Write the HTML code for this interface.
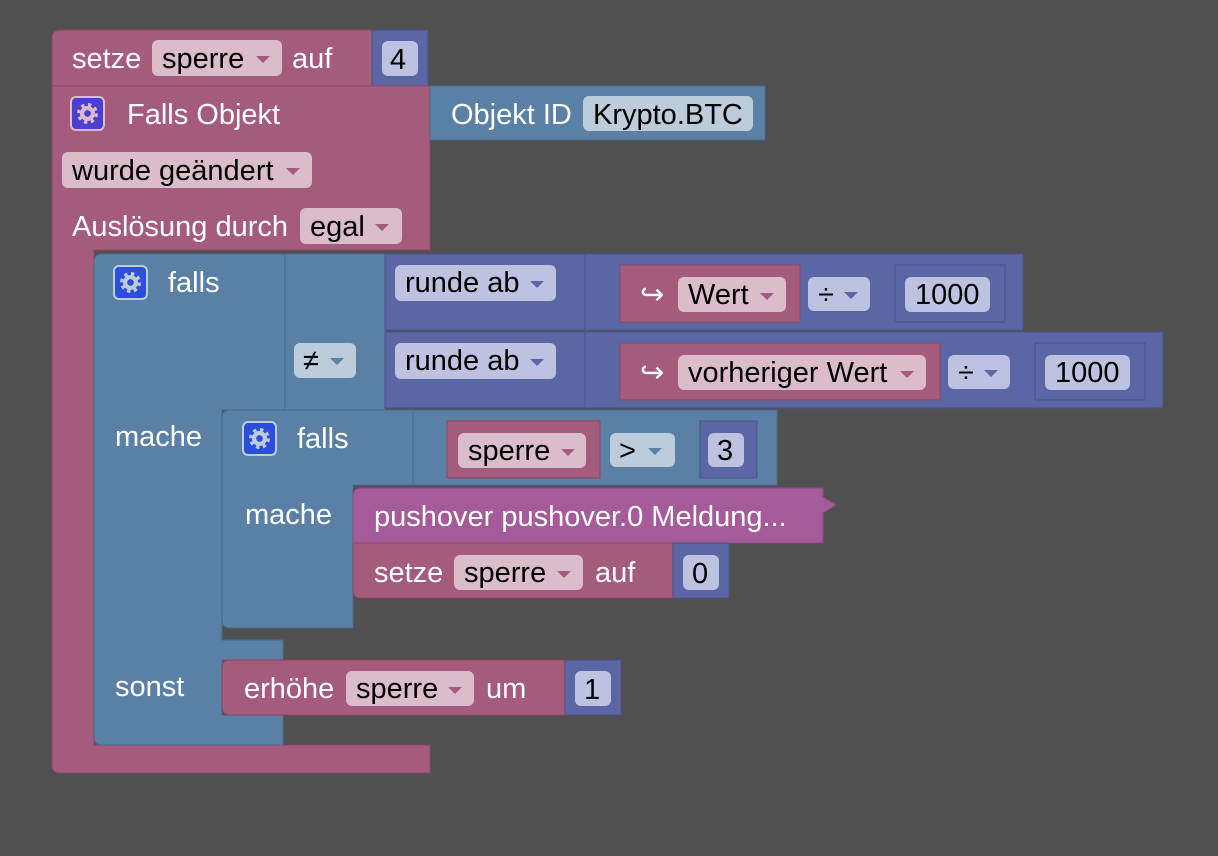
<!DOCTYPE html>
<html><head><meta charset="utf-8"><style>
html,body{margin:0;padding:0;background:#505050;}
svg{display:block}
text{font-family:"Liberation Sans",sans-serif;font-size:29px;}
.w{fill:#fff}.b{fill:#000}
.pk{fill:#a55b7c;stroke:#8a4865;stroke-width:1}
.bl{fill:#5b80a5;stroke:#4a6a8b;stroke-width:1}
.pu{fill:#5b67a5;stroke:#49538a;stroke-width:1}
.ph{fill:#a55b99;stroke:#8a4a80;stroke-width:1}
.fp{fill:#dbbccb}.fb{fill:#bdccdb}.fu{fill:#bdc2e0}
.tp{fill:#a55b7c}.tb{fill:#5b80a5}.tu{fill:#5b67a5}
</style></head><body>
<svg width="1218" height="856" viewBox="0 0 1218 856">
<defs>
<g id="gear">
<circle cx="0" cy="0" r="7.5" fill="currentColor"/>
<circle cx="0" cy="0" r="8.5" fill="none" stroke="currentColor" stroke-width="4" stroke-dasharray="3.3 3.4"/>
<circle cx="0" cy="0" r="3.2" class="hole"/>
</g>
</defs>
<rect width="1218" height="856" fill="#505050"/>

<!-- outer setze -->
<path class="pk" d="M60,30 H372 V86 H52 V38 Q52,30 60,30Z"/>
<path class="pu" d="M372,30 H428 V86 H372Z"/>
<rect class="fp" x="152" y="40" width="130" height="36" rx="6"/>
<text x="72" y="68" class="w">setze</text>
<text x="162" y="68" class="b">sperre</text>
<path class="tp" d="M256,56 h14 l-7,7z"/>
<text x="292" y="68" class="w">auf</text>
<rect class="fu" x="382" y="41" width="36" height="35" rx="6"/>
<text x="390" y="69" class="b">4</text>

<!-- falls objekt -->
<path class="pk" d="M52,86 H430 V250 H94 V745 H430 V773 H60 Q52,773 52,765Z"/>
<path class="bl" d="M430,86 H765 V140 H430Z"/>
<rect class="fb" x="583" y="96" width="170" height="35" rx="6"/>
<text x="451" y="124" class="w">Objekt ID</text>
<text x="593" y="124" class="b">Krypto.BTC</text>
<rect x="71" y="97" width="33" height="33" rx="5" fill="#4a3fd0" stroke="#dbbccb" stroke-width="2"/>
<g transform="translate(87.5,113.5)" style="color:#dbbccb"><use href="#gear"/></g>
<circle cx="87.5" cy="113.5" r="3.2" fill="#4a3fd0"/>
<text x="127" y="124" class="w">Falls Objekt</text>
<rect class="fp" x="62" y="152" width="250" height="36" rx="6"/>
<text x="72" y="180" class="b">wurde geändert</text>
<path class="tp" d="M286,168 h14 l-7,7z"/>
<text x="72" y="236" class="w">Auslösung durch</text>
<rect class="fp" x="300" y="208" width="102" height="36" rx="6"/>
<text x="310" y="236" class="b">egal</text>
<path class="tp" d="M375,224 h14 l-7,7z"/>

<!-- outer if -->
<path class="bl" d="M102,254 H285 V410 H222 V640 H283 V660 H222 V715 H283 V745 H102 Q94,745 94,737 V262 Q94,254 102,254Z"/>
<path class="bl" d="M285,254 H385 V410 H285Z"/>
<rect x="114" y="266" width="33" height="33" rx="5" fill="#2c4ee0" stroke="#bdccdb" stroke-width="2"/>
<g transform="translate(130.5,282.5)" style="color:#bdccdb"><use href="#gear"/></g>
<circle cx="130.5" cy="282.5" r="3.2" fill="#2c4ee0"/>
<text x="168" y="292" class="w">falls</text>
<rect class="fb" x="294" y="343" width="62" height="35" rx="6"/>
<text x="303" y="370" class="b">≠</text>
<path class="tb" d="M330,358 h14 l-7,7z"/>
<text x="115" y="446" class="w">mache</text>
<text x="115" y="696" class="w">sonst</text>

<!-- runde ab rows -->
<path class="pu" d="M385,254 H585 V330 H385Z"/>
<path class="pu" d="M385,332 H585 V408 H385Z"/>
<rect class="fu" x="395" y="265" width="161" height="36" rx="6"/>
<text x="405" y="292" class="b">runde ab</text>
<path class="tu" d="M530,281 h14 l-7,7z"/>
<rect class="fu" x="395" y="343" width="161" height="36" rx="6"/>
<text x="405" y="370" class="b">runde ab</text>
<path class="tu" d="M530,359 h14 l-7,7z"/>

<path class="pu" d="M585,254 H1023 V330 H585Z"/>
<path class="pu" d="M585,332 H1163 V408 H585Z"/>
<path class="pk" d="M620,265 H800 V322 H620Z"/>
<text x="640" y="304" class="w">↪</text>
<rect class="fp" x="678" y="277" width="108" height="35" rx="6"/>
<text x="688" y="304" class="b">Wert</text>
<path class="tp" d="M760,293 h14 l-7,7z"/>
<rect class="fu" x="808" y="277" width="62" height="34" rx="6"/>
<text x="818" y="304" class="b">÷</text>
<path class="tu" d="M844,292 h14 l-7,7z"/>
<path class="pu" d="M895,265 H1005 V322 H895Z"/>
<rect class="fu" x="905" y="277" width="85" height="35" rx="6"/>
<text x="915" y="304" class="b">1000</text>

<path class="pk" d="M620,343 H940 V400 H620Z"/>
<text x="640" y="382" class="w">↪</text>
<rect class="fp" x="678" y="355" width="248" height="35" rx="6"/>
<text x="688" y="382" class="b">vorheriger Wert</text>
<path class="tp" d="M900,371 h14 l-7,7z"/>
<rect class="fu" x="948" y="355" width="62" height="34" rx="6"/>
<text x="958" y="382" class="b">÷</text>
<path class="tu" d="M984,370 h14 l-7,7z"/>
<path class="pu" d="M1035,343 H1145 V400 H1035Z"/>
<rect class="fu" x="1045" y="355" width="85" height="35" rx="6"/>
<text x="1055" y="382" class="b">1000</text>

<!-- nested if -->
<path class="bl" d="M230,410 H413 V485 H353 V628 H230 Q222,628 222,620 V418 Q222,410 230,410Z"/>
<path class="bl" d="M413,410 H777 V485 H413Z"/>
<rect x="243" y="422" width="33" height="33" rx="5" fill="#2c4ee0" stroke="#bdccdb" stroke-width="2"/>
<g transform="translate(259.5,438.5)" style="color:#bdccdb"><use href="#gear"/></g>
<circle cx="259.5" cy="438.5" r="3.2" fill="#2c4ee0"/>
<text x="297" y="448" class="w">falls</text>
<path class="pk" d="M447,421 H600 V478 H447Z"/>
<rect class="fp" x="458" y="433" width="128" height="35" rx="6"/>
<text x="468" y="460" class="b">sperre</text>
<path class="tp" d="M561,449 h14 l-7,7z"/>
<rect class="fb" x="610" y="433" width="65" height="34" rx="6"/>
<text x="619" y="460" class="b">&gt;</text>
<path class="tb" d="M648,448 h14 l-7,7z"/>
<path class="pu" d="M700,421 H757 V478 H700Z"/>
<rect class="fu" x="708" y="433" width="36" height="34" rx="6"/>
<text x="717" y="460" class="b">3</text>
<text x="245" y="524" class="w">mache</text>

<path class="ph" d="M361,488 H823 V497 L836,505 L823,513 V543 H353 V496 Q353,488 361,488Z"/>
<text x="374" y="526" class="w">pushover pushover.0 Meldung...</text>
<path class="pk" d="M353,543 H673 V598 H361 Q353,598 353,590Z"/>
<path class="pu" d="M673,543 H729 V598 H673Z"/>
<text x="374" y="582" class="w">setze</text>
<rect class="fp" x="454" y="555" width="129" height="35" rx="6"/>
<text x="464" y="582" class="b">sperre</text>
<path class="tp" d="M557,571 h14 l-7,7z"/>
<text x="595" y="582" class="w">auf</text>
<rect class="fu" x="683" y="555" width="36" height="35" rx="6"/>
<text x="692" y="583" class="b">0</text>

<!-- erhöhe -->
<path class="pk" d="M230,660 H565 V715 H230 Q222,715 222,707 V668 Q222,660 230,660Z"/>
<path class="pu" d="M565,660 H621 V715 H565Z"/>
<text x="244" y="698" class="w">erhöhe</text>
<rect class="fp" x="346" y="671" width="128" height="35" rx="6"/>
<text x="356" y="698" class="b">sperre</text>
<path class="tp" d="M448,687 h14 l-7,7z"/>
<text x="486" y="698" class="w">um</text>
<rect class="fu" x="575" y="671" width="36" height="35" rx="6"/>
<text x="584" y="699" class="b">1</text>
</svg>
</body></html>
